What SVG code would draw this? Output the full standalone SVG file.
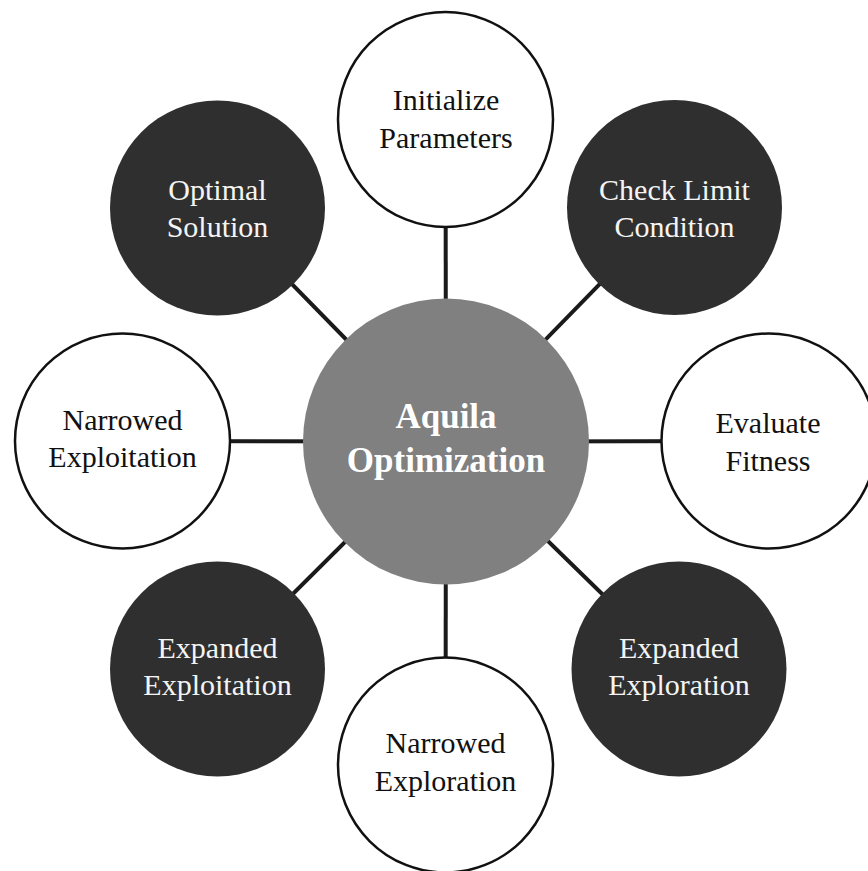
<svg xmlns="http://www.w3.org/2000/svg" width="868" height="871" viewBox="0 0 868 871">
<style>
.bg{fill:#ffffff}
.conn{stroke:#1a1a1a;stroke-width:4;fill:none}
.light{fill:#ffffff;stroke:#111111;stroke-width:2.5}
.dark{fill:#2f2f2f}
.hub{fill:#808080}
.t{font-family:"Liberation Serif","Times New Roman",serif;font-size:30px;text-anchor:middle}
.tl{fill:#111111}
.td{fill:#f4f4f4}
.th{font-family:"Liberation Serif","Times New Roman",serif;font-size:35px;font-weight:bold;text-anchor:middle;fill:#ffffff}
</style>
<rect class="bg" x="0" y="0" width="868" height="871"/>
<g id="connectors">
<line class="conn" x1="446" y1="441.5" x2="445.5" y2="119.5"/>
<line class="conn" x1="446" y1="441.5" x2="674.5" y2="207.5"/>
<line class="conn" x1="446" y1="441.5" x2="769" y2="441"/>
<line class="conn" x1="446" y1="441.5" x2="679" y2="669"/>
<line class="conn" x1="446" y1="441.5" x2="445.5" y2="765"/>
<line class="conn" x1="446" y1="441.5" x2="217.5" y2="669"/>
<line class="conn" x1="446" y1="441.5" x2="122.5" y2="441"/>
<line class="conn" x1="446" y1="441.5" x2="217.5" y2="208"/>
</g>
<g id="hub">
<circle class="hub" cx="446" cy="441.5" r="143"/>
<text class="th" x="446" y="428">Aquila</text>
<text class="th" x="446" y="471.5">Optimization</text>
</g>
<g id="initialize-parameters">
<circle class="light" cx="445.5" cy="119.5" r="107.5"/>
<text class="t tl" x="446" y="110">Initialize</text>
<text class="t tl" x="446" y="148">Parameters</text>
</g>
<g id="check-limit-condition">
<circle class="dark" cx="674.5" cy="207.5" r="107.5"/>
<text class="t td" x="674.5" y="200">Check Limit</text>
<text class="t td" x="674.5" y="237">Condition</text>
</g>
<g id="evaluate-fitness">
<circle class="light" cx="769" cy="441" r="107.5"/>
<text class="t tl" x="768" y="433">Evaluate</text>
<text class="t tl" x="768" y="471">Fitness</text>
</g>
<g id="expanded-exploration">
<circle class="dark" cx="679" cy="669" r="107.5"/>
<text class="t td" x="679" y="658">Expanded</text>
<text class="t td" x="679" y="695">Exploration</text>
</g>
<g id="narrowed-exploration">
<circle class="light" cx="445.5" cy="765" r="107.5"/>
<text class="t tl" x="445.5" y="753">Narrowed</text>
<text class="t tl" x="445.5" y="791">Exploration</text>
</g>
<g id="expanded-exploitation">
<circle class="dark" cx="217.5" cy="669" r="107.5"/>
<text class="t td" x="217.5" y="658">Expanded</text>
<text class="t td" x="217.5" y="695">Exploitation</text>
</g>
<g id="narrowed-exploitation">
<circle class="light" cx="122.5" cy="441" r="107.5"/>
<text class="t tl" x="122.5" y="430">Narrowed</text>
<text class="t tl" x="122.5" y="467">Exploitation</text>
</g>
<g id="optimal-solution">
<circle class="dark" cx="217.5" cy="208" r="107.5"/>
<text class="t td" x="217.5" y="200">Optimal</text>
<text class="t td" x="217.5" y="237">Solution</text>
</g>
</svg>
